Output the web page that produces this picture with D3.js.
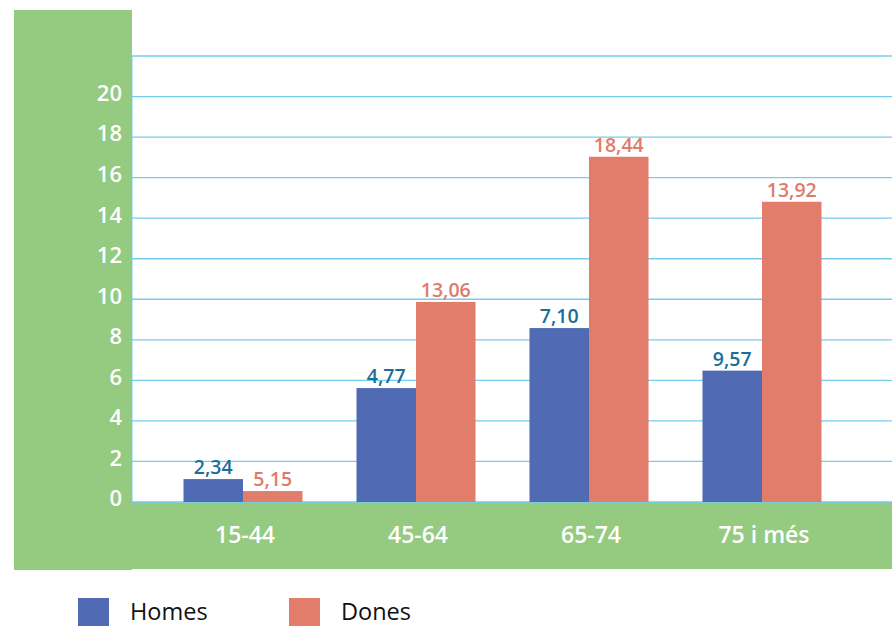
<!DOCTYPE html>
<html><head><meta charset="utf-8">
<script src="https://cdn.jsdelivr.net/npm/d3@7"></script>
<style>body{margin:0;background:#fff}svg{display:block}text{font-family:"Open Sans",Lato,sans-serif}</style>
</head><body><svg id="c" width="892" height="626"></svg>
<script>
const categories = ["15-44", "45-64", "65-74", "75 i més"];
const series = ["Homes", "Dones"];
// bar heights as drawn in the picture
const homesValues = [1.13, 5.62, 8.58, 6.48];
const donesValues = [0.54, 9.87, 17.03, 14.81];
// value labels as printed
const homesLabels = ["2,34", "4,77", "7,10", "9,57"];
const donesLabels = ["5,15", "13,06", "18,44", "13,92"];
const gridTicks = [0,2,4,6,8,10,12,14,16,18,20,22];
const tickLabels = [0,2,4,6,8,10,12,14,16,18,20];

const colors = {Homes:"#506bb3", Dones:"#e27d6b"};
const labelColors = {Homes:"#1b6e97", Dones:"#e07b6b"};
const svg = d3.select("#c");

// green frame
svg.append("rect").attr("x",14).attr("y",10).attr("width",118).attr("height",560).attr("fill","#95cb80");
svg.append("rect").attr("x",14).attr("y",502).attr("width",878).attr("height",67).attr("fill","#95cb80");

const y = d3.scaleLinear().domain([0,22]).range([502,56]);
const x0 = d3.scaleBand().domain(categories).range([156.5,848.5]).paddingInner(0.312).paddingOuter(0.156);
const x1 = d3.scaleBand().domain(series).range([0,x0.bandwidth()]);

// gridlines
svg.append("g").selectAll("line").data(gridTicks).join("line")
  .attr("x1",132).attr("x2",892).attr("y1",d=>y(d)).attr("y2",d=>y(d))
  .attr("stroke","#74cdef").attr("stroke-width",1.3);
svg.append("line").attr("x1",132).attr("x2",132).attr("y1",56).attr("y2",502).attr("stroke","#74cdef").attr("stroke-width",1);

// y tick labels
svg.append("g").selectAll("text").data(tickLabels).join("text")
  .attr("x",122).attr("y",d=>y(d)-1.5).attr("text-anchor","end").attr("dominant-baseline","middle")
  .attr("fill","#fff").attr("font-size",22).attr("font-weight",600).text(d=>d);

const rows = categories.map((c,i)=>({c, vals:[
  {s:"Homes", v:homesValues[i], l:homesLabels[i]},
  {s:"Dones", v:donesValues[i], l:donesLabels[i]}]}));

const g = svg.append("g").selectAll("g").data(rows).join("g")
  .attr("transform",d=>`translate(${x0(d.c)},0)`);
g.selectAll("rect").data(d=>d.vals).join("rect")
  .attr("x",d=>x1(d.s)).attr("width",x1.bandwidth())
  .attr("y",d=>y(d.v)).attr("height",d=>y(0)-y(d.v)).attr("fill",d=>colors[d.s]);
g.selectAll("text").data(d=>d.vals).join("text")
  .attr("x",d=>x1(d.s)+x1.bandwidth()/2).attr("y",d=>y(d.v)-5)
  .attr("text-anchor","middle").attr("font-size",19.5).attr("font-weight",600)
  .attr("fill",d=>labelColors[d.s]).text(d=>d.l);

// category labels
svg.append("g").selectAll("text").data(categories).join("text")
  .attr("x",d=>x0(d)+x0.bandwidth()/2+2).attr("y",537).attr("text-anchor","middle").attr("dominant-baseline","middle")
  .attr("fill","#fff").attr("font-size",23).attr("font-weight",600).text(d=>d);

// legend
const leg = svg.append("g").selectAll("g").data(series).join("g")
  .attr("transform",(d,i)=>`translate(${78+i*211},598)`);
leg.append("rect").attr("width",31).attr("height",28).attr("fill",d=>colors[d]);
leg.append("text").attr("x",52).attr("y",16).attr("dominant-baseline","middle")
  .attr("font-size",23.5).attr("fill","#111").text(d=>d);
</script></body></html>
